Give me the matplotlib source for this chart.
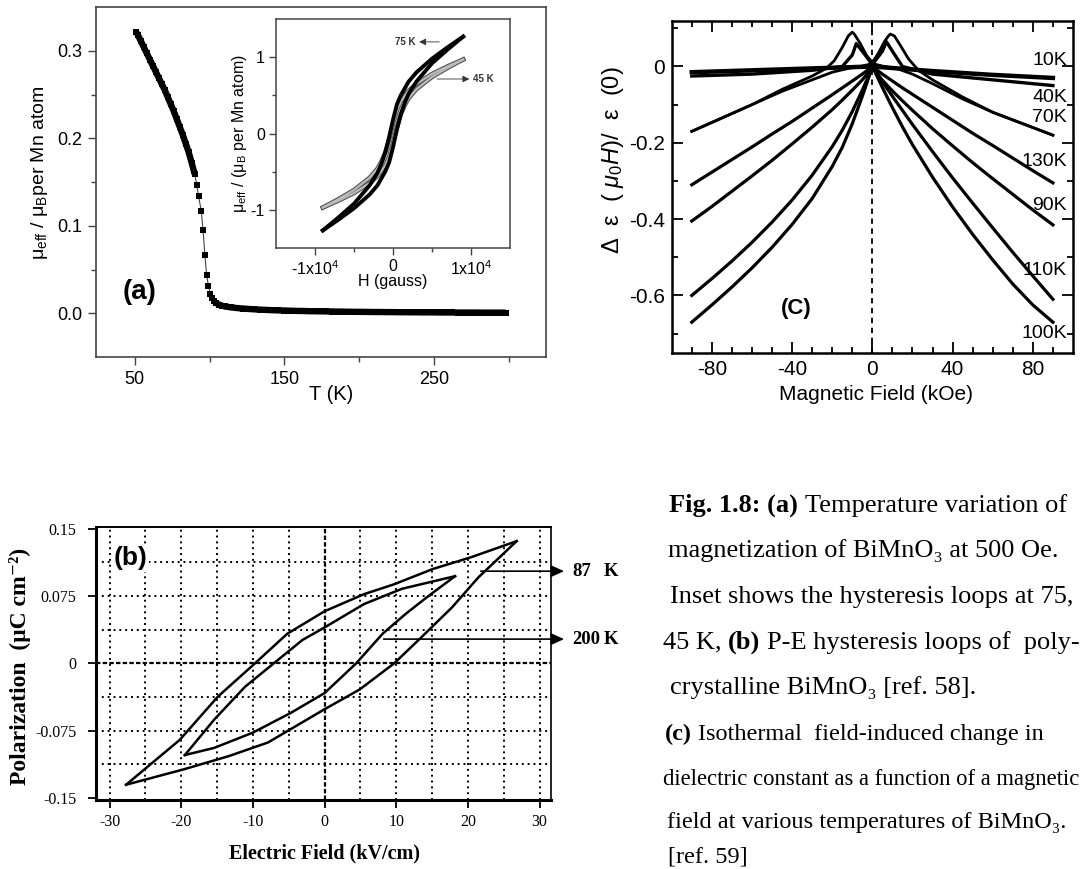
import matplotlib.pyplot as plt

plt.rcParams['font.family'] = ['Liberation Sans', 'DejaVu Sans']
plt.rcParams['mathtext.fontset'] = 'custom'
plt.rcParams['mathtext.rm'] = 'Liberation Sans'
plt.rcParams['mathtext.it'] = 'Liberation Sans:italic'
plt.rcParams['mathtext.bf'] = 'Liberation Sans:bold'
plt.rcParams['mathtext.default'] = 'regular'
plt.rcParams['axes.unicode_minus'] = False

# ---- panel (a): magnetization vs temperature ----
a_T = [50.7, 52, 54, 56, 58, 60, 62, 64, 66, 68, 70, 72, 74, 76, 78, 80, 82, 84, 86, 88, 90,
       91.4, 92.6, 94.4, 95.6, 96.8, 98.0, 99.2, 100.5, 101.8, 103.2, 104.6, 106, 108, 110,
       114, 118, 122, 126, 130, 134, 138, 142, 146, 150, 154, 158, 162, 166, 170,
       174, 178, 182, 186, 190, 194, 198, 202, 206, 210, 214, 218, 222, 226, 230,
       234, 238, 242, 246, 250, 254, 258, 262, 266, 270, 274, 278, 282, 286, 290, 294, 298]
a_M = [0.322, 0.318, 0.311, 0.304, 0.297, 0.290, 0.283, 0.276, 0.269, 0.262, 0.255, 0.247,
       0.239, 0.231, 0.222, 0.213, 0.204, 0.194, 0.184, 0.172, 0.159,
       0.147, 0.134, 0.117, 0.095, 0.067, 0.044, 0.031, 0.022, 0.017, 0.0135, 0.0115, 0.010,
       0.0088, 0.0078,
       0.0068, 0.0060, 0.0054, 0.0049, 0.0045, 0.0041, 0.0038, 0.0035, 0.0033, 0.0031,
       0.0029, 0.0027, 0.0026, 0.0024, 0.0023, 0.0022, 0.0021, 0.0020, 0.0019, 0.0018,
       0.0017, 0.0016, 0.0016, 0.0015, 0.0014, 0.0014, 0.0013, 0.0013, 0.0012, 0.0012,
       0.0011, 0.0011, 0.0010, 0.0010, 0.0010, 0.0009, 0.0009, 0.0009, 0.0008, 0.0008,
       0.0008, 0.0008, 0.0007, 0.0007, 0.0007, 0.0007, 0.0007]

# inset: M-H loops (down = descending field branch, up = ascending field branch)
in_H_down = [9000, 7000, 5000, 3000, 2000, 1000, 500, 0, -500, -1000, -1500, -2000, -3000, -5000, -7000, -9000]
in_H_up = [-9000, -7000, -5000, -3000, -2000, -1000, -500, 0, 500, 1000, 1500, 2000, 3000, 5000, 7000, 9000]
in_75_down = [1.27, 1.13, 0.98, 0.80, 0.68, 0.50, 0.38, 0.18, -0.05, -0.25, -0.40, -0.52, -0.68, -0.92, -1.10, -1.27]
in_75_up = [-1.27, -1.13, -0.98, -0.80, -0.68, -0.50, -0.38, -0.18, 0.05, 0.25, 0.40, 0.52, 0.68, 0.92, 1.10, 1.27]
in_45_down = [0.97, 0.88, 0.78, 0.65, 0.56, 0.42, 0.30, 0.12, -0.08, -0.25, -0.37, -0.46, -0.58, -0.74, -0.86, -0.97]
in_45_up = [-0.97, -0.88, -0.78, -0.65, -0.56, -0.42, -0.30, -0.12, 0.08, 0.25, 0.37, 0.46, 0.58, 0.74, 0.86, 0.97]

# ---- panel (b): P-E loops ----
b_87_up_E = [-27.7, -20.2, -14.9, -10.0, -5.2, 0.0, 5.5, 9.7, 15.1, 20.4, 26.8]
b_87_up_P = [-0.135, -0.085, -0.037, -0.002, 0.033, 0.058, 0.077, 0.088, 0.105, 0.118, 0.136]
b_87_lo_E = [-27.7, -19.7, -13.3, -7.9, 0.0, 4.9, 9.7, 13.5, 17.8, 21.5, 26.8]
b_87_lo_P = [-0.135, -0.118, -0.103, -0.088, -0.051, -0.029, 0.000, 0.029, 0.0625, 0.096, 0.136]
b_200_up_E = [-19.5, -15.4, -11.1, -7.1, -3.1, 0.0, 5.5, 10.8, 18.2]
b_200_up_P = [-0.102, -0.0625, -0.026, 0.000, 0.026, 0.040, 0.066, 0.083, 0.097]
b_200_lo_E = [-19.5, -15.4, -10.0, -4.7, 0.0, 4.4, 8.1, 11.3, 14.5, 18.2]
b_200_lo_P = [-0.102, -0.094, -0.077, -0.055, -0.033, 0.000, 0.033, 0.055, 0.075, 0.097]
b_grid_x = [-30, -25, -20, -15, -10, -5, 5, 10, 15, 20, 25, 30]
b_grid_y = [-0.1125, -0.075, -0.0375, 0.0375, 0.075, 0.1125]
b_xticks = [-30, -20, -10, 0, 10, 20, 30]
b_yticks = [-0.15, -0.075, 0, 0.075, 0.15]
b_ylabels = ['-0.15', '-0.075', '0', '0.075', '0.15']

# ---- panel (c): magnetocapacitance ----
c_H = [-90, -80, -70, -60, -50, -40, -30, -20, -15, -10, -5, -2, 0, 2, 5, 10, 15, 20, 30, 40, 50, 60, 70, 80, 90]
c_130 = [-0.310, -0.277, -0.244, -0.211, -0.177, -0.144, -0.109, -0.074, -0.056, -0.038, -0.020, -0.008, 0.0,
         -0.008, -0.020, -0.038, -0.056, -0.073, -0.107, -0.141, -0.175, -0.207, -0.240, -0.273, -0.305]
c_90 = [-0.405, -0.367, -0.327, -0.287, -0.246, -0.203, -0.159, -0.113, -0.088, -0.062, -0.035, -0.016, 0.0,
        -0.016, -0.036, -0.064, -0.090, -0.115, -0.163, -0.208, -0.252, -0.294, -0.335, -0.376, -0.415]
c_110 = [-0.600, -0.556, -0.510, -0.461, -0.408, -0.350, -0.285, -0.210, -0.167, -0.118, -0.062, -0.026, 0.0,
         -0.016, -0.040, -0.078, -0.115, -0.152, -0.223, -0.292, -0.358, -0.423, -0.487, -0.549, -0.610]
c_100 = [-0.670, -0.625, -0.578, -0.528, -0.474, -0.414, -0.346, -0.262, -0.212, -0.150, -0.078, -0.032, 0.0,
         -0.022, -0.055, -0.108, -0.158, -0.205, -0.290, -0.368, -0.440, -0.507, -0.570, -0.625, -0.670]
c_70d_H = [90, 75, 60, 45, 30, 20, 12, 6, 2, 0, -3, -6, -9, -10, -12, -15, -19, -23, -30, -45, -60, -75, -90]
c_70d = [-0.18, -0.15, -0.12, -0.085, -0.045, -0.02, -0.005, 0.0, 0.005, 0.01, 0.03, 0.06, 0.085, 0.09,
         0.08, 0.05, 0.015, -0.005, -0.025, -0.06, -0.10, -0.135, -0.17]
c_70u_H = [-90, -75, -60, -45, -30, -20, -12, -6, -2, 0, 3, 6, 8, 9, 11, 14, 18, 23, 30, 45, 60, 75, 90]
c_70u = [-0.17, -0.135, -0.10, -0.065, -0.035, -0.015, -0.005, 0.0, 0.005, 0.01, 0.035, 0.065, 0.08, 0.085,
         0.08, 0.055, 0.02, -0.01, -0.035, -0.08, -0.12, -0.15, -0.18]
c_40_H = [-90, -60, -30, -15, -10, -8, -5, 0, 5, 7, 10, 15, 30, 60, 90]
c_40 = [-0.025, -0.02, -0.01, 0.0, 0.03, 0.06, 0.04, 0.005, 0.04, 0.065, 0.04, 0.0, -0.02, -0.035, -0.05]
c_10_H = [-90, -60, -30, 0, 30, 60, 90]
c_10 = [-0.015, -0.01, -0.005, 0.0, -0.012, -0.022, -0.03]
c_labels = ['10K', '40K', '70K', '130K', '90K', '110K', '100K']
c_label_y = [0.015, -0.081, -0.133, -0.249, -0.364, -0.534, -0.70]

W, H = 1080, 869
fig = plt.figure(figsize=(W / 100, H / 100), dpi=100)


def box(l, t, r, b):
    return [l / W, 1 - b / H, (r - l) / W, (b - t) / H]


# ================= panel (a) =================
ax = fig.add_axes(box(96, 7, 546, 357))
# dense stretches of the data merge into a solid band, the steep part shows single squares
ax.plot(a_T[:21], a_M[:21], '-', color='k', lw=4.6, solid_capstyle='butt')
ax.plot(a_T[31:], a_M[31:], '-', color='k', lw=4.6, solid_capstyle='butt')
ax.plot(a_T[20:32], a_M[20:32], '-', color='#444444', lw=0.8)
ax.plot(a_T, a_M, 's', ms=4.6, color='k', mew=0)
ax.set_xlim(24, 325)
ax.set_ylim(-0.05, 0.35)
ax.set_xticks([50, 150, 250])
ax.set_xticks([100, 200, 300], minor=True)
ax.set_yticks([0, 0.1, 0.2, 0.3])
ax.set_yticklabels(['0.0', '0.1', '0.2', '0.3'])
ax.set_yticks([0.05, 0.15, 0.25], minor=True)
ax.tick_params(direction='out', length=6, width=1, labelsize=13, pad=4, color='#444444')
ax.tick_params(which='minor', direction='out', length=3.5, width=1, color='#444444')
for s in ax.spines.values():
    s.set_color('#444444')
    s.set_linewidth(1.2)
ax.set_xlabel('T (K)', fontsize=14.5)
ax.xaxis.set_label_coords(0.522, -0.08)
ax.set_ylabel(r'$\mathrm{\mu_{eff}}$ / $\mathrm{\mu_B}$per Mn atom', fontsize=14)
ax.yaxis.set_label_coords(-0.103, 0.526)
ax.text(53, 0.024, '(a)', fontsize=20, fontweight='bold', ha='center', va='center')

# inset
ins = fig.add_axes(box(276, 19, 510, 248))
ins.plot(in_H_down, in_45_down, '-', color='#555555', lw=3.2)
ins.plot(in_H_up, in_45_up, '-', color='#555555', lw=3.2)
ins.plot(in_H_down, in_45_down, '-', color='#bbbbbb', lw=1.6)
ins.plot(in_H_up, in_45_up, '-', color='#bbbbbb', lw=1.6)
ins.plot(in_H_down, in_75_down, '-', color='k', lw=2.8)
ins.plot(in_H_up, in_75_up, '-', color='k', lw=2.8)
ins.set_xlim(-15000, 15000)
ins.set_ylim(-1.5, 1.5)
ins.set_xticks([-10000, 0, 10000])
ins.set_xticklabels([r'-1x10$^4$', '0', r'1x10$^4$'])
ins.set_xticks([-5000, 5000], minor=True)
ins.set_yticks([-1, 0, 1])
ins.set_yticks([-0.5, 0.5], minor=True)
ins.tick_params(direction='out', length=5, width=1, labelsize=11.5, pad=3, color='#444444')
ins.tick_params(which='minor', direction='out', length=3, width=1, color='#444444')
for s in ins.spines.values():
    s.set_color('#444444')
    s.set_linewidth(1.1)
ins.set_xlabel('H (gauss)', fontsize=11.5)
ins.xaxis.set_label_coords(0.5, -0.115)
ins.set_ylabel(r'$\mathrm{\mu_{eff}}$ / ($\mathrm{\mu_B}$ per Mn atom)', fontsize=11.5)
ins.yaxis.set_label_coords(-0.115, 0.5)
small_arrow = dict(arrowstyle='-|>,head_length=0.5,head_width=0.25', lw=0.6, color='#333333', mutation_scale=8)
ins.annotate('', xy=(3000, 1.2), xytext=(6300, 1.2), arrowprops=small_arrow)
ins.text(2900, 1.2, '75 K', fontsize=7, fontweight='bold', ha='right', va='center', color='#333333')
ins.annotate('', xy=(10150, 0.714), xytext=(5300, 0.714), arrowprops=small_arrow)
ins.text(10300, 0.714, '45 K', fontsize=7, fontweight='bold', ha='left', va='center', color='#333333')

# ================= panel (c) =================
axc = fig.add_axes(box(671.7, 20.7, 1073, 352.7))
axc.axvline(0, ls=(0, (3, 2.5)), lw=1.3, color='k')
for yv in [c_130, c_90, c_110, c_100]:
    axc.plot(c_H, yv, '-', color='k', lw=2.3)
axc.plot(c_70d_H, c_70d, '-', color='k', lw=2.0)
axc.plot(c_70u_H, c_70u, '-', color='k', lw=2.0)
axc.plot(c_40_H, c_40, '-', color='k', lw=2.4)
axc.plot(c_10_H, c_10, '-', color='k', lw=3.2)
axc.set_xlim(-100, 100)
axc.set_ylim(-0.75, 0.12)
axc.set_xticks([-80, -40, 0, 40, 80])
axc.set_xticks([-90, -70, -60, -50, -30, -20, -10, 10, 20, 30, 50, 60, 70, 90], minor=True)
axc.set_yticks([-0.6, -0.4, -0.2, 0])
axc.set_yticklabels(['-0.6', '-0.4', '-0.2', '0'])
axc.set_yticks([-0.7, -0.5, -0.3, -0.1, 0.1], minor=True)
axc.tick_params(which='both', direction='in', top=True, right=True, width=1.3)
axc.tick_params(which='major', length=8, labelsize=15, pad=5)
axc.tick_params(which='minor', length=4)
for s in axc.spines.values():
    s.set_linewidth(1.8)
axc.set_xlabel('Magnetic Field (kOe)', fontsize=15)
axc.xaxis.set_label_coords(0.509, -0.097)
axc.set_ylabel(r'Δ  ε  ( $\mathit{μ}_0\mathit{H}$)/  ε  (0)', fontsize=17)
axc.yaxis.set_label_coords(-0.115, 0.58)
for lab, yv in zip(c_labels, c_label_y):
    axc.text(97, yv, lab, fontsize=14, ha='right', va='center')
axc.text(-37.8, -0.633, '(C)', fontsize=16, fontweight='bold', ha='center', va='center')

# ================= panel (b) =================
serif = ['Liberation Serif', 'DejaVu Serif']
axb = fig.add_axes(box(96, 527.3, 550.7, 800))
for xv in b_grid_x:
    axb.axvline(xv, ls=(0, (1, 2)), lw=1.4, color='k')
for yv in b_grid_y:
    axb.axhline(yv, ls=(0, (1, 2)), lw=1.4, color='k')
axb.axvline(0, ls=(0, (2, 1)), lw=1.6, color='k')
axb.axhline(0, ls=(0, (2, 1)), lw=1.6, color='k')
axb.plot(b_87_up_E, b_87_up_P, '-', color='k', lw=1.8)
axb.plot(b_87_lo_E, b_87_lo_P, '-', color='k', lw=1.8)
axb.plot(b_200_up_E, b_200_up_P, '-', color='k', lw=1.8)
axb.plot(b_200_lo_E, b_200_lo_P, '-', color='k', lw=1.8)
axb.set_xlim(-31.9, 31.55)
axb.set_ylim(-0.152, 0.1514)
axb.set_xticks(b_xticks)
axb.set_yticks(b_yticks)
axb.set_yticklabels(b_ylabels)
axb.tick_params(direction='out', length=6, width=1.3, labelsize=11.5, labelfontfamily='Liberation Serif')
axb.tick_params(axis='y', pad=8)
axb.tick_params(axis='x', pad=4)
axb.spines['left'].set_linewidth(2.2)
axb.spines['bottom'].set_linewidth(2.2)
axb.spines['top'].set_linewidth(1.4)
axb.spines['right'].set_linewidth(1.2)
axb.set_xlabel('Electric Field (kV/cm)', fontsize=14.5, fontweight='bold', family=serif)
axb.xaxis.set_label_coords(0.5025, -0.161)
axb.set_ylabel('Polarization  (μC cm⁻²)', fontsize=17, fontweight='bold', family=serif)
axb.yaxis.set_label_coords(-0.143, 0.491)
axb.text(-27.1, 0.117, '(b)', fontsize=19, fontweight='bold', ha='center', va='center',
         bbox=dict(facecolor='white', edgecolor='none', pad=1))
arrow = dict(arrowstyle='-|>,head_length=0.55,head_width=0.25', lw=1.2, color='k', mutation_scale=14)
axb.annotate('', xy=(33.8, 0.1026), xytext=(21.4, 0.1026), arrowprops=arrow, annotation_clip=False)
axb.annotate('', xy=(33.8, 0.027), xytext=(7.85, 0.027), arrowprops=arrow, annotation_clip=False)
for lab, yv in [('87', 0.1026), ('200', 0.027)]:
    axb.text(34.6, yv, lab, fontsize=13.5, fontweight='bold', family=serif, ha='left', va='center', clip_on=False)
    axb.text(38.95, yv, 'K', fontsize=13.5, fontweight='bold', family=serif, ha='left', va='center', clip_on=False)

# ================= caption =================
renderer = fig.canvas.get_renderer()


def width_px(s, size, weight):
    t = fig.text(0, 0, s, fontsize=size, fontweight=weight, family=serif)
    w = t.get_window_extent(renderer).width
    t.remove()
    return w


def caption_line(x, y, parts, size, right=1079):
    # shrink the line if it would run past the right edge of the figure
    total = sum(width_px(s, size, w) for s, w in parts)
    total += sum(width_px('x x', size, w) - width_px('xx', size, w) for s, w in parts[1:])
    if x + total > right:
        size = size * (right - x) / total
    for i, (s, weight) in enumerate(parts):
        if i > 0:
            x += width_px('x x', size, weight) - width_px('xx', size, weight)
        t = fig.text(x / W, 1 - y / H, s, fontsize=size, fontweight=weight, family=serif,
                     ha='left', va='baseline')
        x += t.get_window_extent(renderer).width


caption_line(669, 512, [('Fig. 1.8: (a)', 'bold'), ('Temperature variation of', 'normal')], 19)
caption_line(668, 557.5, [('magnetization of BiMnO₃ at 500 Oe.', 'normal')], 19)
caption_line(670, 603, [('Inset shows the hysteresis loops at 75,', 'normal')], 19)
caption_line(663, 648.5, [('45 K,', 'normal'), ('(b)', 'bold'), ('P-E hysteresis loops of  poly-', 'normal')], 19)
caption_line(670, 694, [('crystalline BiMnO₃ [ref. 58].', 'normal')], 19)
caption_line(665, 740, [('(c)', 'bold'), ('Isothermal  field-induced change in', 'normal')], 17.5)
caption_line(663, 785, [('dielectric constant as a function of a magnetic', 'normal')], 17.5)
caption_line(667, 828, [('field at various temperatures of BiMnO₃.', 'normal')], 17.5)
caption_line(668, 862, [('[ref. 59]', 'normal')], 17.5)

fig.savefig('out.png', dpi=100)
